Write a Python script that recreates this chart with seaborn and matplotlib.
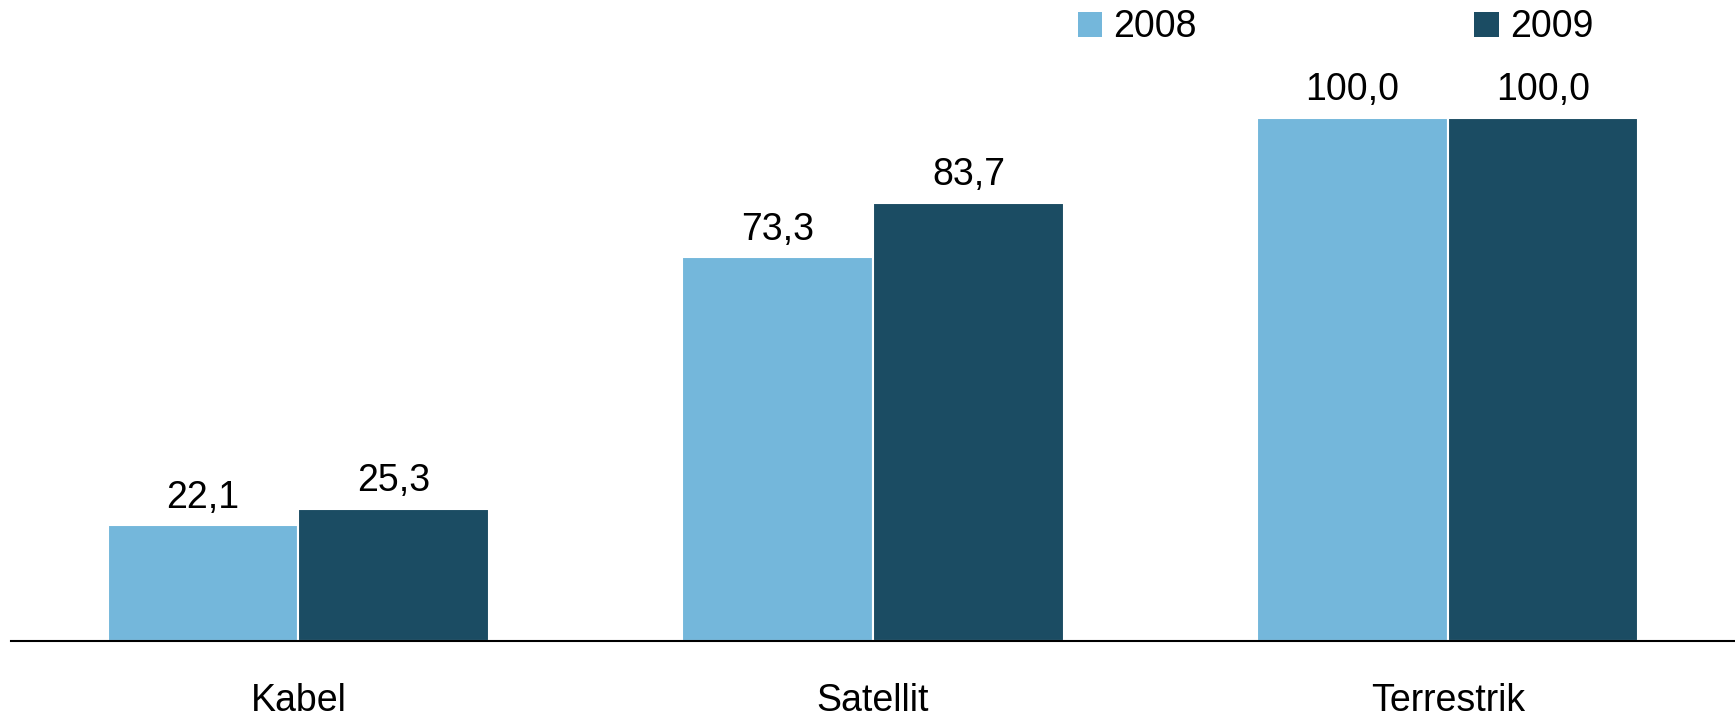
import matplotlib
matplotlib.use("Agg")
import matplotlib.pyplot as plt
import seaborn as sns
import pandas as pd
from matplotlib.patches import Patch

categories = ["Kabel", "Satellit", "Terrestrik"]
years = ["2008", "2009"]
values_2008 = [22.1, 73.3, 100.0]
values_2009 = [25.3, 83.7, 100.0]
colors = ["#74B7DB", "#1B4C63"]

df = pd.DataFrame({
    "cat": categories * 2,
    "year": [years[0]] * 3 + [years[1]] * 3,
    "val": values_2008 + values_2009,
})

sns.set_theme(style="white")
plt.rcParams["font.family"] = ["Liberation Sans", "DejaVu Sans"]

fig = plt.figure(figsize=(17.35, 7.16), dpi=100)
ax = fig.add_axes([11/1735, 1-641/716, 1724/1735, 628/716])
sns.barplot(data=df, x="cat", y="val", hue="year", palette=colors, saturation=1,
            width=0.664, ax=ax, edgecolor="white", linewidth=1.5, legend=False)

ax.set_xlim(-0.5, 2.5)
ax.set_ylim(0, 120)
ax.set_xlabel("")
ax.set_ylabel("")
ax.set_yticks([])
for s in ["top", "right", "left"]:
    ax.spines[s].set_visible(False)
ax.spines["bottom"].set_color("black")
ax.spines["bottom"].set_linewidth(1.5)
ax.tick_params(axis="x", length=0, pad=30, labelsize=27, labelcolor="black")

for cont in ax.containers:
    ax.bar_label(cont, labels=[f"{v:.1f}".replace(".", ",") for v in cont.datavalues],
                 padding=7, fontsize=27, color="black")

handles = [Patch(facecolor=c, edgecolor="none") for c in colors]
leg = fig.legend(handles, years, loc="upper left", bbox_to_anchor=(1059/1735, 1.013),
                 ncol=2, frameon=False, fontsize=27, handlelength=0.65, handleheight=0.65,
                 handletextpad=0.3, columnspacing=7.4, borderpad=0.0)
for t in leg.get_texts():
    t.set_color("black")

fig.savefig("out.png", dpi=100)
